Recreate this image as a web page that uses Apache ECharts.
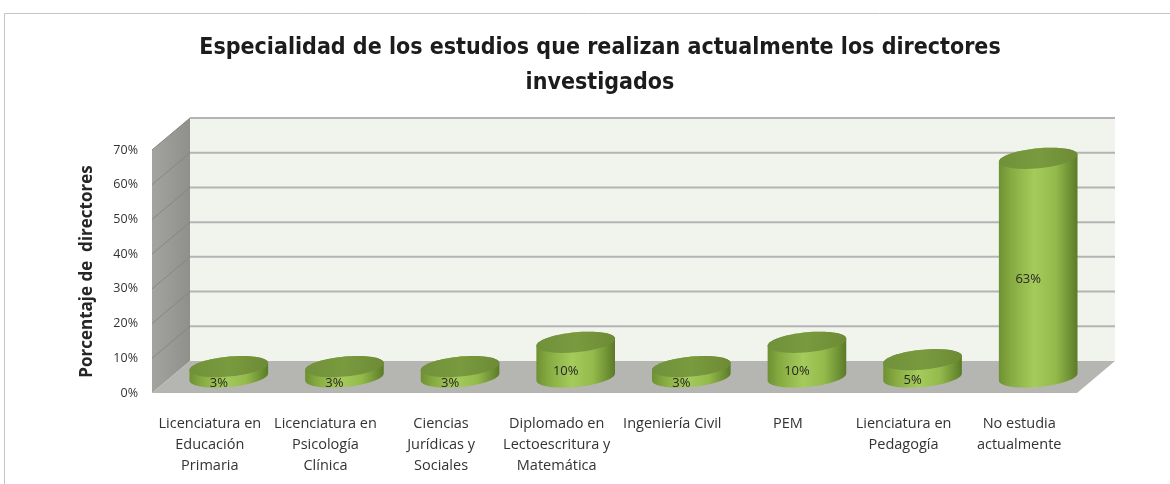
<!DOCTYPE html>
<html>
<head>
<meta charset="utf-8">
<script src="https://cdn.jsdelivr.net/npm/echarts@6/dist/echarts.min.js"></script>
<style>html,body{margin:0;padding:0;background:#fff;}#c{width:1170px;height:484px;}</style>
</head>
<body>
<div id="c"></div>
<script>
const titleText = 'Especialidad de los estudios que realizan actualmente los directores\ninvestigados';
const yAxisName = 'Porcentaje de  directores';
const categories = [
  'Licenciatura en\nEducación\nPrimaria',
  'Licenciatura en\nPsicología\nClínica',
  'Ciencias\nJurídicas y\nSociales',
  'Diplomado en\nLectoescritura y\nMatemática',
  'Ingeniería Civil',
  'PEM',
  'Lienciatura en\nPedagogía',
  'No estudia\nactualmente'
];
const values = [0.03, 0.03, 0.03, 0.10, 0.03, 0.10, 0.05, 0.63];
const yTicks = [0, 0.1, 0.2, 0.3, 0.4, 0.5, 0.6, 0.7];

const DX = 38, DY = -32;

function pct(v){ return Math.round(v * 100) + '%'; }

const chart = echarts.init(document.getElementById('c'), null, {renderer: 'canvas'});

function renderWalls(params, api) {
  const cs = params.coordSys;
  const x0 = cs.x, x1 = cs.x + cs.width;
  const yB = cs.y + cs.height, yT = cs.y;
  const v = api.value(1);
  const y = api.coord([0, v])[1];
  const children = [];
  if (params.dataIndex === 0) {
    children.push({
      type: 'polygon',
      shape: {points: [[x0 + DX, yT + DY], [x1 + DX, yT + DY], [x1 + DX, yB + DY], [x0 + DX, yB + DY]]},
      style: {fill: '#f1f4ec'}
    });
    children.push({
      type: 'polygon',
      shape: {points: [[x0, yB], [x0, yT], [x0 + DX, yT + DY], [x0 + DX, yB + DY]]},
      style: {fill: new echarts.graphic.LinearGradient(0, 0, 1, 0, [
        {offset: 0, color: '#a3a49f'}, {offset: 1, color: '#8f908b'}
      ])}
    });
    children.push({
      type: 'polygon',
      shape: {points: [[x0, yB], [x1, yB], [x1 + DX, yB + DY], [x0 + DX, yB + DY]]},
      style: {fill: '#b5b6b1'}
    });
  }
  if (v > 0) {
    children.push({
      type: 'line',
      shape: {x1: x0 + DX, y1: y + DY, x2: x1 + DX, y2: y + DY},
      style: {stroke: '#b4b4b4', lineWidth: 2}
    });
    children.push({
      type: 'line',
      shape: {x1: x0, y1: y, x2: x0 + DX, y2: y + DY},
      style: {stroke: '#868782', lineWidth: 1}
    });
  }
  return {type: 'group', children: children};
}

function ellipsePts(cx, cy, a, b, k, t0, t1, n) {
  const pts = [];
  for (let i = 0; i <= n; i++) {
    const t = t0 + (t1 - t0) * i / n;
    const ex = a * Math.cos(t);
    pts.push([cx + ex, cy + b * Math.sin(t) + k * ex]);
  }
  return pts;
}

function renderCyl(params, api) {
  const i = api.value(0), v = api.value(1);
  const p0 = api.coord([i, 0]);
  const p1 = api.coord([i, v]);
  const cx = p0[0] + DX / 2;
  const yb = p0[1] + DY / 2;
  const yt = p1[1] + DY / 2;
  const a = api.size([1, 0])[0] * 0.34;
  const b = 10, k = -0.09;
  const body = ellipsePts(cx, yb, a, b, k, Math.PI, 0, 40)
    .concat(ellipsePts(cx, yt, a, b, k, 0, -Math.PI, 40));
  const top = ellipsePts(cx, yt, a, b, k, 0, 2 * Math.PI, 80);
  return {
    type: 'group',
    children: [
      {
        type: 'polygon',
        shape: {points: body},
        style: {fill: new echarts.graphic.LinearGradient(0, 0, 1, 0, [
          {offset: 0, color: '#6e9033'},
          {offset: 0.15, color: '#86aa41'},
          {offset: 0.45, color: '#a5cb5b'},
          {offset: 0.72, color: '#94ba4c'},
          {offset: 0.9, color: '#6f9234'},
          {offset: 1, color: '#5b7a29'}
        ])}
      },
      {
        type: 'polygon',
        shape: {points: top},
        style: {fill: new echarts.graphic.LinearGradient(0, 0, 1, 0, [
          {offset: 0, color: '#70913a'},
          {offset: 0.5, color: '#7a9a3f'},
          {offset: 1, color: '#6c8b35'}
        ])}
      },
      {
        type: 'text',
        style: {
          text: pct(v),
          x: p0[0] + 9,
          y: (p0[1] + p1[1]) / 2 - 4,
          align: 'center',
          verticalAlign: 'middle',
          fill: '#262626',
          font: '13px "Open Sans", "Liberation Sans", sans-serif'
        }
      }
    ]
  };
}

chart.setOption({
  animation: false,
  backgroundColor: '#ffffff',
  title: {
    text: titleText,
    left: 595,
    textAlign: 'center',
    top: 26,
    textStyle: {
      fontFamily: '"DejaVu Sans Condensed", "DejaVu Sans", sans-serif',
      fontWeight: 'bold',
      fontSize: 23,
      lineHeight: 35,
      color: '#1c1c1c'
    }
  },
  graphic: [{
    type: 'rect',
    shape: {x: 4.5, y: 13.5, width: 1200, height: 500},
    style: {fill: 'none', stroke: '#c4c4c4', lineWidth: 1},
    silent: true
  }],
  grid: {left: 152, right: 93, top: 150, bottom: 91, containLabel: false},
  xAxis: {
    type: 'category',
    data: categories,
    axisLine: {show: false},
    axisTick: {show: false},
    splitLine: {show: false},
    axisLabel: {
      interval: 0,
      margin: 20,
      fontSize: 14.5,
      lineHeight: 21,
      color: '#333333',
      fontFamily: '"Open Sans", "Liberation Sans", sans-serif'
    }
  },
  yAxis: {
    type: 'value',
    min: 0,
    max: 0.7,
    interval: 0.1,
    name: yAxisName,
    nameLocation: 'middle',
    nameGap: 56,
    nameTextStyle: {
      fontSize: 17,
      fontWeight: 'bold',
      color: '#262626',
      fontFamily: '"Open Sans", "Liberation Sans", sans-serif'
    },
    axisLine: {show: false},
    axisTick: {show: false},
    splitLine: {show: false},
    axisLabel: {
      margin: 14,
      fontSize: 12.5,
      color: '#333333',
      fontFamily: '"Open Sans", "Liberation Sans", sans-serif',
      formatter: pct
    }
  },
  series: [
    {
      type: 'custom',
      name: 'walls',
      clip: false,
      silent: true,
      z: 1,
      renderItem: renderWalls,
      data: yTicks.map(function (v) { return [0, v]; })
    },
    {
      type: 'custom',
      name: 'Porcentaje',
      clip: false,
      z: 5,
      renderItem: renderCyl,
      data: values.map(function (v, i) { return [i, v]; })
    }
  ]
});
</script>
</body>
</html>
